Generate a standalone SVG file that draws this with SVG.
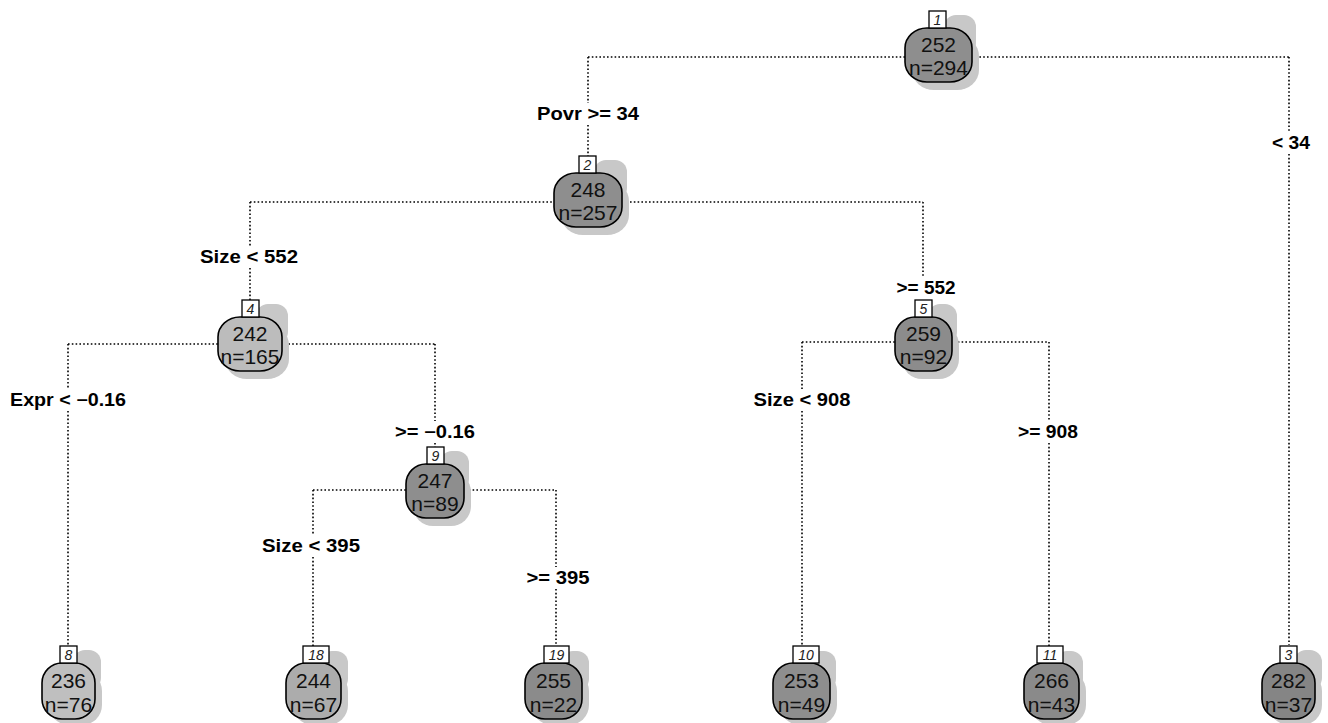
<svg xmlns="http://www.w3.org/2000/svg" width="1328" height="723" viewBox="0 0 1328 723">
<style>
.bg{fill:#ffffff}
.edge{stroke:#000;stroke-width:1.6;stroke-dasharray:1.6 2.2;fill:none}
.lbl{font-family:"Liberation Sans",Arial,sans-serif;font-weight:bold;font-size:17.5px;fill:#000;text-anchor:middle}
.shadow{fill:#c8c8c8}
.body{stroke:#000;stroke-width:1.6}
.box{fill:#fff;stroke:#000;stroke-width:1.3}
.num{font-family:"Liberation Sans",Arial,sans-serif;font-style:italic;font-size:14px;fill:#222;text-anchor:middle}
.val{font-family:"Liberation Sans",Arial,sans-serif;font-size:21px;fill:#111;text-anchor:middle}
</style>
<rect class="bg" x="0" y="0" width="1328" height="723"/>
<g id="connectors">
<path class="edge" d="M588 57H1289M588 57V103M588 125V156M1289 57V132M1289 154V645"/>
<path class="edge" d="M250 202H923M250 202V246M250 268V300M923 202V277"/>
<path class="edge" d="M68 344H435M68 344V389M68 411V645M435 344V421M435 443V447"/>
<path class="edge" d="M802 342H1049M802 342V389M802 411V647M1049 342V421M1049 443V647"/>
<path class="edge" d="M313 490H556M313 490V535M313 557V647M556 490V567M556 589V647"/>
<text class="lbl" x="588" y="120" textLength="102" lengthAdjust="spacingAndGlyphs">Povr &gt;= 34</text>
<text class="lbl" x="1291" y="149" textLength="38" lengthAdjust="spacingAndGlyphs">&lt; 34</text>
<text class="lbl" x="249" y="263" textLength="98" lengthAdjust="spacingAndGlyphs">Size &lt; 552</text>
<text class="lbl" x="926" y="294" textLength="59" lengthAdjust="spacingAndGlyphs">&gt;= 552</text>
<text class="lbl" x="68" y="406" textLength="116" lengthAdjust="spacingAndGlyphs">Expr &lt; −0.16</text>
<text class="lbl" x="435" y="438" textLength="80" lengthAdjust="spacingAndGlyphs">&gt;= −0.16</text>
<text class="lbl" x="802" y="406" textLength="97" lengthAdjust="spacingAndGlyphs">Size &lt; 908</text>
<text class="lbl" x="1048" y="438" textLength="60" lengthAdjust="spacingAndGlyphs">&gt;= 908</text>
<text class="lbl" x="311" y="552" textLength="98" lengthAdjust="spacingAndGlyphs">Size &lt; 395</text>
<text class="lbl" x="558" y="584" textLength="63" lengthAdjust="spacingAndGlyphs">&gt;= 395</text>
</g>
<g id="node1">
<rect class="shadow" x="944" y="15" width="32" height="40" rx="12"/>
<rect class="shadow" x="912" y="36" width="67" height="54" rx="22" ry="20"/>
<rect class="body" fill="#8e8e8e" x="905" y="28" width="67" height="54" rx="22" ry="20"/>
<rect class="box" x="929" y="11" width="17" height="17"/>
<text class="num" x="937.5" y="24.5">1</text>
<text class="val" x="938.5" y="52">252</text>
<text class="val" x="938.5" y="75">n=294</text>
</g>
<g id="node2">
<rect class="shadow" x="594" y="160" width="33" height="40" rx="12"/>
<rect class="shadow" x="561" y="181" width="68" height="54" rx="22" ry="20"/>
<rect class="body" fill="#8e8e8e" x="554" y="173" width="68" height="54" rx="22" ry="20"/>
<rect class="box" x="579" y="156" width="17" height="17"/>
<text class="num" x="587.5" y="169.5">2</text>
<text class="val" x="588" y="197">248</text>
<text class="val" x="588" y="220">n=257</text>
</g>
<g id="node4">
<rect class="shadow" x="256" y="304" width="32" height="40" rx="12"/>
<rect class="shadow" x="225" y="325" width="64" height="54" rx="22" ry="20"/>
<rect class="body" fill="#bcbcbc" x="218" y="317" width="64" height="54" rx="22" ry="20"/>
<rect class="box" x="242" y="300" width="17" height="17"/>
<text class="num" x="250.5" y="313.5">4</text>
<text class="val" x="250" y="341">242</text>
<text class="val" x="250" y="364">n=165</text>
</g>
<g id="node5">
<rect class="shadow" x="928" y="304" width="29" height="40" rx="12"/>
<rect class="shadow" x="902" y="325" width="57" height="54" rx="20" ry="20"/>
<rect class="body" fill="#8c8c8c" x="895" y="317" width="57" height="54" rx="20" ry="20"/>
<rect class="box" x="915" y="300" width="17" height="17"/>
<text class="num" x="923.5" y="313.5">5</text>
<text class="val" x="923.5" y="341">259</text>
<text class="val" x="923.5" y="364">n=92</text>
</g>
<g id="node9">
<rect class="shadow" x="440" y="451" width="29" height="40" rx="12"/>
<rect class="shadow" x="413" y="472" width="58" height="54" rx="20" ry="20"/>
<rect class="body" fill="#8e8e8e" x="406" y="464" width="58" height="54" rx="20" ry="20"/>
<rect class="box" x="427" y="447" width="17" height="17"/>
<text class="num" x="435.5" y="460.5">9</text>
<text class="val" x="435" y="488">247</text>
<text class="val" x="435" y="511">n=89</text>
</g>
<g id="node8">
<rect class="shadow" x="73" y="650" width="28" height="40" rx="12"/>
<rect class="shadow" x="49" y="671" width="53" height="54" rx="20" ry="20"/>
<rect class="body" fill="#bfbfbf" x="42" y="663" width="53" height="56" rx="20" ry="20"/>
<rect class="box" x="60" y="646" width="17" height="17"/>
<text class="num" x="68.5" y="659.5">8</text>
<text class="val" x="68.5" y="688">236</text>
<text class="val" x="68.5" y="712">n=76</text>
</g>
<g id="node18">
<rect class="shadow" x="320" y="651" width="28" height="40" rx="12"/>
<rect class="shadow" x="293" y="671" width="55" height="54" rx="20" ry="20"/>
<rect class="body" fill="#acacac" x="286" y="663" width="55" height="56" rx="20" ry="20"/>
<rect class="box" x="303" y="646" width="26" height="17"/>
<text class="num" x="316" y="659.5">18</text>
<text class="val" x="313.5" y="688">244</text>
<text class="val" x="313.5" y="712">n=67</text>
</g>
<g id="node19">
<rect class="shadow" x="561" y="651" width="28" height="40" rx="12"/>
<rect class="shadow" x="532" y="671" width="57" height="54" rx="20" ry="20"/>
<rect class="body" fill="#8b8b8b" x="525" y="663" width="57" height="56" rx="20" ry="20"/>
<rect class="box" x="544" y="646" width="25" height="17"/>
<text class="num" x="556.5" y="659.5">19</text>
<text class="val" x="553.5" y="688">255</text>
<text class="val" x="553.5" y="712">n=22</text>
</g>
<g id="node10">
<rect class="shadow" x="808" y="651" width="28" height="40" rx="12"/>
<rect class="shadow" x="780" y="671" width="57" height="54" rx="20" ry="20"/>
<rect class="body" fill="#8e8e8e" x="773" y="663" width="57" height="56" rx="20" ry="20"/>
<rect class="box" x="793" y="646" width="26" height="17"/>
<text class="num" x="806" y="659.5">10</text>
<text class="val" x="801.5" y="688">253</text>
<text class="val" x="801.5" y="712">n=49</text>
</g>
<g id="node11">
<rect class="shadow" x="1055" y="651" width="28" height="40" rx="12"/>
<rect class="shadow" x="1031" y="671" width="55" height="54" rx="20" ry="20"/>
<rect class="body" fill="#8a8a8a" x="1024" y="663" width="55" height="56" rx="20" ry="20"/>
<rect class="box" x="1037" y="646" width="26" height="17"/>
<text class="num" x="1050" y="659.5">11</text>
<text class="val" x="1051.5" y="688">266</text>
<text class="val" x="1051.5" y="712">n=43</text>
</g>
<g id="node3">
<rect class="shadow" x="1294" y="650" width="28" height="40" rx="12"/>
<rect class="shadow" x="1269" y="671" width="53" height="54" rx="20" ry="20"/>
<rect class="body" fill="#858585" x="1262" y="663" width="53" height="56" rx="20" ry="20"/>
<rect class="box" x="1280" y="646" width="17" height="17"/>
<text class="num" x="1288.5" y="659.5">3</text>
<text class="val" x="1288.5" y="688">282</text>
<text class="val" x="1288.5" y="712">n=37</text>
</g>
</svg>
